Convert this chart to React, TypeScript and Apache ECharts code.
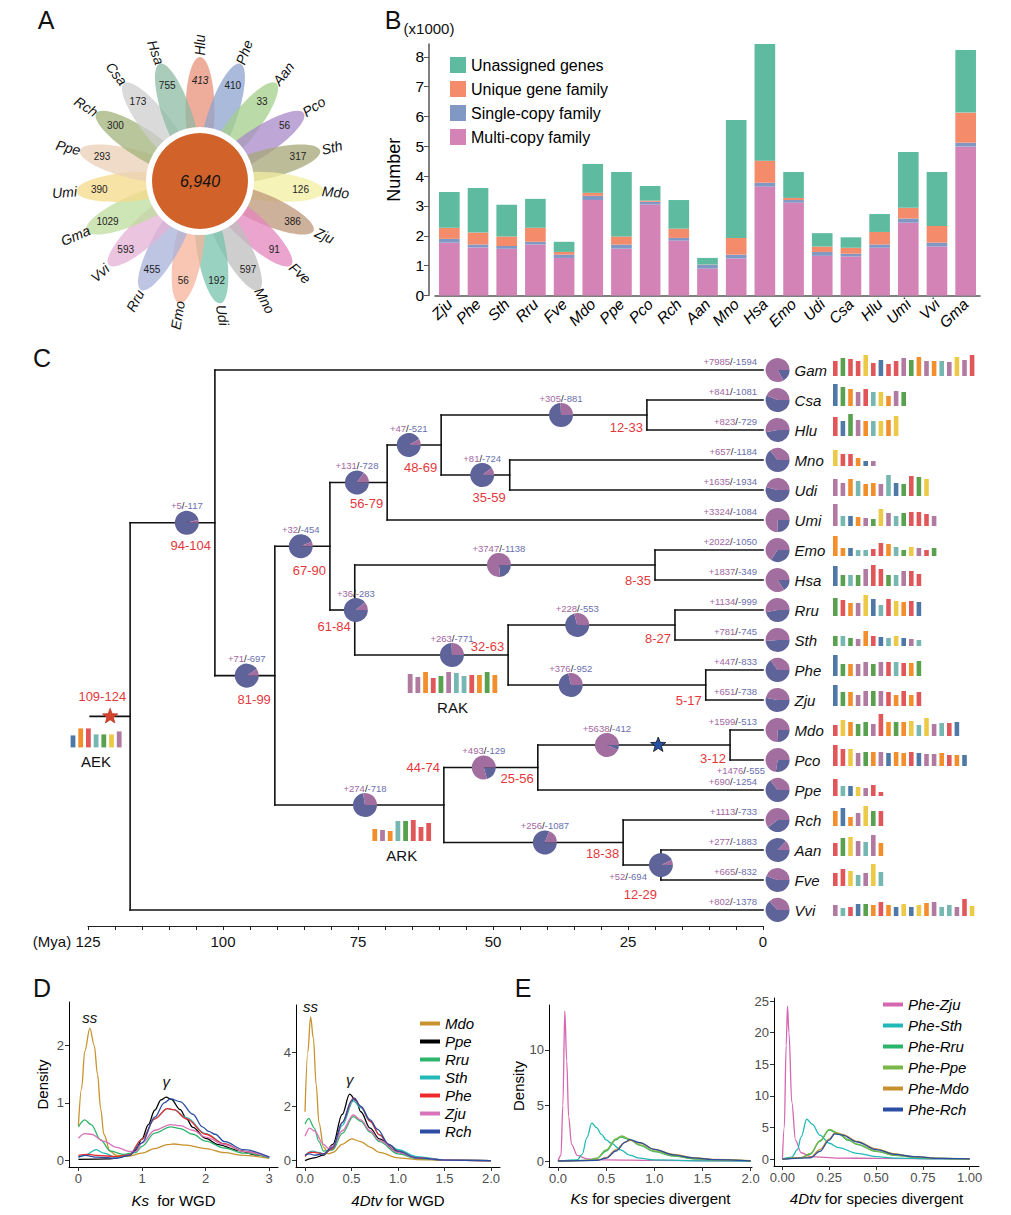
import React, { useEffect, useRef } from "react";
import * as echarts from "echarts";

const FONT = "'Liberation Sans', Arial, Helvetica, sans-serif";

// ---------------- Panel A : flower ----------------
const flowerSpecies = ["Hlu","Phe","Aan","Pco","Sth","Mdo","Zju","Fve","Mno","Udi","Emo","Rru","Vvi","Gma","Umi","Ppe","Rch","Csa","Hsa"];
const flowerUnique = [413,410,33,56,317,126,386,91,597,192,56,455,593,1029,390,293,300,173,755];
const flowerColors = ["#E8927A","#8DA3CF","#A3CF8A","#A88AC8","#A6A776","#F3EFA2","#BE977A","#E486BC","#BDBDBD","#78C3AC","#F6B399","#A7B1DA","#E4B2D6","#BDDC9C","#F6DA8A","#E9CFB5","#A2B37A","#CECECE","#8CBBA4"];
const coreFamilies = "6,940";

// ---------------- Panel B : gene families ----------------
const barSpecies = ["Zju","Phe","Sth","Rru","Fve","Mdo","Ppe","Pco","Rch","Aan","Mno","Hsa","Emo","Udi","Csa","Hlu","Umi","Vvi","Gma"];
const multiCopy = [1.77,1.61,1.57,1.71,1.26,3.20,1.57,3.05,1.84,0.90,1.24,3.65,3.11,1.33,1.31,1.60,2.44,1.64,4.99];
const singleCopy = [0.13,0.10,0.09,0.09,0.11,0.14,0.14,0.09,0.09,0.13,0.13,0.13,0.09,0.13,0.09,0.11,0.14,0.13,0.13];
const uniqueFamily = [0.37,0.40,0.32,0.47,0.09,0.10,0.27,0.04,0.31,0.01,0.56,0.74,0.07,0.18,0.20,0.42,0.36,0.56,1.01];
const unassigned = [1.20,1.49,1.06,0.97,0.34,0.97,2.16,0.49,0.96,0.22,3.95,3.91,0.87,0.45,0.35,0.60,1.87,1.81,2.10];
const barNames = ["Multi-copy family","Single-copy family","Unique gene family","Unassigned genes"];
const barColors = ["#D483B7","#8198C5","#F48B6A","#5FBBA0"];

// ---------------- Panel C : phylogeny ----------------
const leafNames = ["Gam","Csa","Hlu","Mno","Udi","Umi","Emo","Hsa","Rru","Sth","Phe","Zju","Mdo","Pco","Ppe","Rch","Aan","Fve","Vvi"];
const leafGain = [7985,841,823,657,1635,3324,2022,1837,1134,781,447,651,1599,1476,690,1113,277,665,802];
const leafLoss = [1594,1081,729,1184,1934,1084,1050,349,999,745,833,738,513,555,1254,733,1883,832,1378];
const leafParent = [1,6,6,7,7,4,9,9,11,11,12,12,15,15,14,16,17,17,0];
const nodeParent = [-1,0,1,2,3,4,5,5,3,8,8,10,10,2,13,14,13,16];
const nodeAge = [117.2,101.5,90.4,80.2,69.6,59.6,21.5,46.9,75.6,20.0,47.2,16.3,10.6,59.1,41.7,6.1,25.9,18.9];
const nodeGain = [0,5,71,32,131,47,305,81,36,3747,263,228,376,274,493,5638,256,52];
const nodeLoss = [0,117,697,454,728,521,881,724,283,1138,771,553,952,718,129,412,1087,694];
const nodePieAge = [0,106.7,95.6,85.6,75.2,65.6,37.4,52.0,75.4,48.9,57.6,34.4,35.6,73.7,51.7,28.9,40.4,18.9];
const nodeRange = ["109-124","94-104","81-99","67-90","56-79","48-69","12-33","35-59","61-84","8-35","32-63","8-27","5-17","44-74","25-56","3-12","18-38","12-29"];
const rootOriginAge = 124.6;
const starAges = [120.9, 19.4]; // AEK star on root stem, WGD star on Mdo/Pco stem
const axisTicksMya = [125,100,75,50,25,0];

const karyotypes: Record<string, number[][]> = {
  Gam: [[2,15],[4,18],[2,17],[2,15],[5,21],[2,13],[0,16],[2,12],[2,15],[6,18],[4,16],[1,19],[6,15],[1,15],[3,15],[6,14],[5,19],[6,16],[2,21]],
  Csa: [[0,22],[4,19],[1,17],[6,14],[2,17],[3,14],[5,14],[1,10],[6,15],[4,14]],
  Hlu: [[2,19],[0,15],[4,22],[6,16],[1,15],[3,15],[5,15],[1,16],[5,20]],
  Mno: [[5,16],[2,12],[2,12],[1,8],[0,5],[6,5]],
  Udi: [[6,17],[6,13],[1,17],[3,15],[1,12],[1,13],[6,12],[3,21],[0,13],[4,12],[2,20],[4,19],[5,17]],
  Umi: [[6,22],[3,10],[0,10],[1,9],[6,8],[4,7],[5,17],[6,13],[3,10],[4,13],[2,14],[2,14],[2,12],[6,10]],
  Emo: [[1,20],[1,8],[0,8],[3,6],[3,6],[2,7],[2,13],[1,12],[3,9],[4,6],[5,9],[6,8],[2,6],[4,8]],
  Hsa: [[0,20],[4,11],[3,11],[4,11],[6,17],[2,21],[2,17],[4,11],[3,11],[6,15],[2,15],[2,12]],
  Rru: [[4,18],[2,16],[1,13],[6,13],[5,21],[0,17],[3,11],[2,17],[5,15],[1,14],[2,15],[0,14]],
  Sth: [[4,10],[3,10],[4,8],[6,7],[1,15],[2,10],[0,9],[3,8],[5,10],[0,8],[6,7],[3,6]],
  Phe: [[0,21],[4,12],[1,12],[6,12],[6,14],[4,12],[6,14],[2,14],[3,14],[2,13],[1,13],[4,15]],
  Zju: [[0,21],[4,14],[1,14],[6,11],[6,15],[4,15],[6,15],[2,14],[1,11],[2,15],[1,11],[2,14]],
  Mdo: [[2,11],[5,16],[1,14],[4,12],[4,14],[6,12],[2,22],[1,14],[4,14],[1,14],[5,15],[3,11],[5,18],[6,12],[3,13],[2,13],[0,14]],
  Pco: [[2,21],[2,17],[5,17],[6,13],[4,14],[1,14],[6,14],[0,13],[1,14],[1,13],[2,14],[0,13],[6,12],[6,12],[1,13],[2,11],[1,11],[0,11]],
  Ppe: [[2,17],[3,10],[0,10],[5,9],[6,8],[2,11],[2,4]],
  Rch: [[1,15],[0,18],[1,9],[6,13],[5,20],[4,15],[2,15]],
  Aan: [[2,13],[4,18],[5,19],[6,15],[3,14],[6,21],[1,13]],
  Fve: [[2,13],[2,17],[5,15],[3,11],[6,13],[5,22],[3,14]],
  Vvi: [[6,11],[3,8],[2,9],[0,12],[4,12],[1,11],[2,14],[1,11],[0,9],[5,12],[0,9],[5,11],[1,13],[6,14],[3,9],[3,11],[6,9],[2,17],[5,10]],
};
const ancNames = ["AEK","RAK","ARK"];
const ancNode = [0,10,13];
const ancAge = [123.5,57.5,66.9];
const ancBars = [
  [[0,12],[1,19],[2,19],[3,13],[4,13],[5,13],[6,16]],
  [[6,19],[6,16],[1,21],[2,15],[4,17],[6,21],[3,20],[3,17],[2,18],[1,18],[4,21],[1,18]],
  [[1,12],[6,11],[1,10],[3,20],[4,20],[2,21],[2,14],[2,18]],
];
const KCOL = ["#4E79A7","#F28E2B","#E15759","#76B7B2","#59A14F","#EDC948","#B07AA1"];

// ---------------- Panel D : WGD ----------------
const wgdSpecies = ["Mdo","Ppe","Rru","Sth","Phe","Zju","Rch"];
const wgdColors = ["#C8922E","#000000","#2EB36A","#23BBB8","#EE2A2F","#D872B9","#2C4DA3"];
const ksWGD = [
  [[0,0.6],[0.05,1.25],[0.1,1.9],[0.18,2.3],[0.25,2.0],[0.3,1.5],[0.35,0.9],[0.4,0.45],[0.5,0.15],[0.6,0.08],[0.8,0.07],[1.0,0.12],[1.2,0.2],[1.4,0.27],[1.5,0.28],[1.7,0.26],[2.0,0.2],[2.3,0.13],[2.6,0.08],[3.0,0.03]],
  [[0,0.01],[0.5,0.02],[0.8,0.08],[0.9,0.17],[1.0,0.37],[1.1,0.62],[1.2,0.87],[1.3,1.05],[1.38,1.1],[1.46,1.06],[1.6,0.88],[1.7,0.72],[1.8,0.57],[2.0,0.38],[2.2,0.27],[2.5,0.17],[2.8,0.09],[3.0,0.05]],
  [[0,0.58],[0.1,0.7],[0.2,0.62],[0.35,0.35],[0.5,0.16],[0.7,0.1],[0.9,0.13],[1.0,0.24],[1.2,0.47],[1.45,0.58],[1.6,0.55],[1.8,0.45],[2.0,0.33],[2.3,0.21],[2.6,0.12],[3.0,0.04]],
  [[0,0.05],[0.1,0.08],[0.28,0.18],[0.4,0.12],[0.6,0.04],[0.8,0.09],[1.0,0.36],[1.2,0.72],[1.4,0.9],[1.5,0.88],[1.7,0.74],[2.0,0.46],[2.3,0.28],[2.6,0.15],[3.0,0.04]],
  [[0,0.08],[0.15,0.1],[0.3,0.08],[0.6,0.06],[0.8,0.09],[1.0,0.36],[1.2,0.72],[1.4,0.9],[1.5,0.88],[1.7,0.72],[2.0,0.45],[2.3,0.28],[2.6,0.15],[3.0,0.05]],
  [[0,0.38],[0.1,0.46],[0.2,0.45],[0.4,0.33],[0.6,0.22],[0.8,0.15],[0.9,0.15],[1.0,0.3],[1.2,0.52],[1.45,0.62],[1.6,0.6],[1.8,0.52],[2.0,0.4],[2.3,0.27],[2.6,0.15],[3.0,0.05]],
  [[0,0.05],[0.1,0.08],[0.3,0.05],[0.6,0.03],[0.8,0.08],[1.0,0.3],[1.2,0.75],[1.35,1.0],[1.45,1.07],[1.6,1.02],[1.8,0.8],[1.95,0.58],[2.05,0.5],[2.15,0.45],[2.3,0.32],[2.6,0.18],[3.0,0.05]],
];
const dtvWGD = [
  [[0,1.8],[0.03,4.0],[0.06,5.3],[0.09,4.5],[0.12,2.8],[0.15,1.4],[0.2,0.5],[0.25,0.25],[0.3,0.3],[0.4,0.6],[0.5,0.8],[0.6,0.7],[0.7,0.5],[0.8,0.3],[1.0,0.1],[1.2,0.04],[1.5,0.01],[2.0,0]],
  [[0,0],[0.1,0.1],[0.2,0.2],[0.3,0.6],[0.4,1.7],[0.48,2.45],[0.55,2.2],[0.6,1.8],[0.7,1.2],[0.8,0.8],[1.0,0.3],[1.2,0.1],[1.5,0.02],[2.0,0]],
  [[0,1.35],[0.04,1.55],[0.1,1.2],[0.15,0.7],[0.2,0.35],[0.3,0.4],[0.4,1.0],[0.52,1.62],[0.6,1.45],[0.7,1.05],[0.8,0.7],[1.0,0.25],[1.2,0.08],[1.5,0.02],[2.0,0]],
  [[0,0.2],[0.08,0.35],[0.15,0.3],[0.2,0.25],[0.3,0.45],[0.4,1.3],[0.52,2.2],[0.6,1.95],[0.7,1.45],[0.8,0.95],[0.9,0.6],[1.0,0.4],[1.2,0.15],[1.5,0.03],[2.0,0]],
  [[0,0.15],[0.05,0.3],[0.1,0.3],[0.2,0.25],[0.3,0.45],[0.4,1.4],[0.52,2.3],[0.6,2.0],[0.7,1.45],[0.8,0.95],[0.9,0.6],[1.0,0.35],[1.2,0.1],[1.5,0.02],[2.0,0]],
  [[0,0.9],[0.05,1.2],[0.1,1.1],[0.2,0.6],[0.25,0.45],[0.3,0.55],[0.4,1.1],[0.52,1.68],[0.6,1.5],[0.7,1.1],[0.8,0.75],[1.0,0.3],[1.2,0.1],[1.5,0.02],[2.0,0]],
  [[0,0.2],[0.05,0.25],[0.1,0.2],[0.2,0.25],[0.3,0.5],[0.4,1.4],[0.5,2.2],[0.53,2.3],[0.6,2.0],[0.7,1.5],[0.78,1.15],[0.9,0.6],[1.0,0.35],[1.2,0.1],[1.5,0.02],[2.0,0]],
];

// ---------------- Panel E : species divergence ----------------
const pairNames = ["Phe-Zju","Phe-Sth","Phe-Rru","Phe-Ppe","Phe-Mdo","Phe-Rch"];
const pairColors = ["#D566B0","#20B9B7","#2DB46B","#7AB648","#C7902F","#2A4EA3"];
const ksDiv = [
  [[0,0],[0.03,0.5],[0.05,5],[0.07,13.5],[0.09,9],[0.11,4],[0.14,1.5],[0.2,0.5],[0.3,0.2],[0.5,0.1],[1.0,0.05],[2.0,0]],
  [[0,0],[0.2,0.1],[0.25,0.6],[0.3,2.1],[0.35,3.4],[0.4,3.0],[0.45,2.4],[0.5,1.9],[0.55,1.6],[0.65,1.0],[0.75,0.5],[0.85,0.25],[1.0,0.1],[1.5,0.02],[2.0,0]],
  [[0,0],[0.3,0.05],[0.4,0.2],[0.5,0.9],[0.6,1.9],[0.65,2.15],[0.75,1.9],[0.85,1.4],[1.0,0.85],[1.2,0.45],[1.4,0.2],[1.6,0.1],[2.0,0.02]],
  [[0,0],[0.3,0.05],[0.4,0.25],[0.5,1.0],[0.6,2.0],[0.66,2.25],[0.75,1.95],[0.85,1.45],[1.0,0.9],[1.2,0.48],[1.4,0.22],[1.6,0.1],[2.0,0.02]],
  [[0,0],[0.4,0.05],[0.5,0.3],[0.6,1.0],[0.7,1.7],[0.75,1.85],[0.85,1.6],[1.0,1.05],[1.2,0.6],[1.4,0.3],[1.6,0.15],[2.0,0.03]],
  [[0,0],[0.4,0.05],[0.5,0.25],[0.6,0.9],[0.7,1.7],[0.74,1.92],[0.85,1.65],[1.0,1.05],[1.2,0.55],[1.4,0.28],[1.6,0.13],[2.0,0.02]],
];
const dtvDiv = [
  [[0,0],[0.01,5],[0.02,18],[0.027,24.2],[0.035,20],[0.05,9],[0.07,3],[0.1,1],[0.15,0.4],[0.3,0.15],[0.5,0.1],[1.0,0]],
  [[0,0],[0.05,0.3],[0.08,1.5],[0.1,3.5],[0.13,6.3],[0.16,5.5],[0.2,3.8],[0.25,2.5],[0.3,1.8],[0.4,0.9],[0.5,0.4],[0.6,0.15],[0.8,0.05],[1.0,0]],
  [[0,0],[0.1,0.2],[0.15,0.8],[0.2,2.8],[0.25,4.6],[0.3,4.0],[0.35,3.0],[0.4,2.3],[0.5,1.2],[0.6,0.6],[0.7,0.3],[0.85,0.1],[1.0,0.02]],
  [[0,0],[0.1,0.2],[0.15,0.9],[0.2,2.9],[0.25,4.7],[0.3,4.1],[0.35,3.1],[0.4,2.35],[0.5,1.25],[0.6,0.62],[0.7,0.3],[0.85,0.1],[1.0,0.02]],
  [[0,0],[0.15,0.3],[0.2,1.5],[0.25,3.2],[0.28,4.1],[0.32,3.9],[0.4,2.8],[0.5,1.6],[0.6,0.8],[0.7,0.4],[0.85,0.12],[1.0,0.03]],
  [[0,0],[0.15,0.2],[0.2,1.2],[0.25,3.0],[0.28,4.0],[0.32,3.8],[0.4,2.7],[0.5,1.5],[0.6,0.75],[0.7,0.38],[0.85,0.1],[1.0,0.03]],
];

// ---------------- layout constants ----------------
const PURPLE = "#A26E9F";
const BLUE = "#5E6399";
const RED = "#E4383D";
const leafPieAge = -2.7;
const rangeLabelDy = [-20,23,24,24,21,22,12,22,16,15,-9,13,15,-38,11,13,11,29];

function buildTree() {
  const nodeRow: number[] = [];
  const nodeMin: number[] = [];
  const nodeMax: number[] = [];
  const rowOf = (i: number): number => {
    const ys: number[] = [];
    nodeParent.forEach((p, j) => { if (p === i) ys.push(rowOf(j)); });
    leafParent.forEach((p, j) => { if (p === i) ys.push(j); });
    nodeRow[i] = ys.reduce((a, b) => a + b, 0) / ys.length;
    nodeMin[i] = Math.min(...ys);
    nodeMax[i] = Math.max(...ys);
    return nodeRow[i];
  };
  rowOf(0);
  return { nodeRow, nodeMin, nodeMax };
}

function starPts(cx: number, cy: number, R: number) {
  const pts: number[][] = [];
  for (let k = 0; k < 10; k++) {
    const a = -Math.PI / 2 + (k * Math.PI) / 5;
    const r = k % 2 === 0 ? R : R * 0.42;
    pts.push([cx + r * Math.cos(a), cy + r * Math.sin(a)]);
  }
  return pts;
}

function glText(g: number, l: number) {
  return `{g|+${g}}{s|/}{l|-${l}}`;
}
const glRich = {
  g: { fill: "#A3679F", fontSize: 9.5, fontFamily: FONT },
  s: { fill: "#222", fontSize: 9.5, fontFamily: FONT },
  l: { fill: "#6A6FAE", fontSize: 9.5, fontFamily: FONT },
};

function buildOption() {
  const { nodeRow, nodeMin, nodeMax } = buildTree();

  // ---- Panel A graphics ----
  const cx0 = 200, cy0 = 181;
  const nF = flowerSpecies.length;
  const petals: any[] = [];
  const petalTexts: any[] = [];
  flowerSpecies.forEach((s, i) => {
    const th = (i * 2 * Math.PI) / nF;
    const sx = Math.sin(th), cy = Math.cos(th);
    petals.push({
      type: "ellipse", x: cx0 + 70 * sx, y: cy0 - 70 * cy, rotation: Math.PI / 2 - th,
      shape: { cx: 0, cy: 0, rx: 54, ry: 14.5 },
      style: { fill: flowerColors[i], opacity: 0.75 },
    });
    petalTexts.push({
      type: "text", x: cx0 + 101 * sx, y: cy0 - 101 * cy,
      style: { text: String(flowerUnique[i]), fontSize: 10, fill: "#222", fontFamily: FONT, align: "center", verticalAlign: "middle", fontStyle: i === 0 ? "italic" : "normal" },
    });
    const right = th <= Math.PI + 1e-6;
    petalTexts.push({
      type: "text", x: cx0 + 136 * sx, y: cy0 - 136 * cy,
      rotation: right ? Math.PI / 2 - th : (3 * Math.PI) / 2 - th,
      style: { text: s, fontSize: 14, fontStyle: "italic", fill: "#111", fontFamily: FONT, align: "center", verticalAlign: "middle" },
    });
  });
  const flower = [
    ...petals,
    { type: "circle", shape: { cx: cx0, cy: cy0, r: 54 }, style: { fill: "#fff" } },
    { type: "circle", shape: { cx: cx0, cy: cy0, r: 48 }, style: { fill: "#D0622A" } },
    { type: "text", x: cx0, y: cy0, style: { text: coreFamilies, fontSize: 16, fontStyle: "italic", fill: "#111", fontFamily: FONT, align: "center", verticalAlign: "middle" } },
    ...petalTexts,
  ];

  const letters = [["A", 46, 20], ["B", 393, 20], ["C", 42, 358], ["D", 42, 988], ["E", 523, 988]].map(([t, x, y]) => ({
    type: "text", x, y, style: { text: t, fontSize: 25, fill: "#111", fontFamily: FONT, align: "center", verticalAlign: "middle" },
  }));
  const extraTexts = [
    { type: "text", x: 429, y: 28, style: { text: "(x1000)", fontSize: 15, fill: "#111", fontFamily: FONT, align: "center", verticalAlign: "middle" } },
    { type: "text", x: 52, y: 941, style: { text: "(Mya)", fontSize: 15, fill: "#111", fontFamily: FONT, align: "center", verticalAlign: "middle" } },
  ];

  // ---- Panel C data ----
  const branchData: number[][] = [];
  nodeAge.forEach((age, i) => {
    const from = i === 0 ? rootOriginAge : nodeAge[nodeParent[i]];
    branchData.push([age, nodeRow[i], from, 1, nodeMin[i], nodeMax[i]]);
  });
  leafNames.forEach((_, j) => branchData.push([0, j, nodeAge[leafParent[j]], 0, 0, 0]));

  const pieData: number[][] = [];
  const pieLabels: string[] = [];
  nodeAge.forEach((_, i) => {
    if (i === 0) return;
    pieData.push([nodePieAge[i], nodeRow[i], nodeGain[i], nodeLoss[i], i === 17 ? 3 : 0]);
    pieLabels.push(glText(nodeGain[i], nodeLoss[i]));
  });
  leafNames.forEach((n, j) => {
    pieData.push([leafPieAge, j, leafGain[j], leafLoss[j], n === "Pco" ? 2 : 1]);
    pieLabels.push(glText(leafGain[j], leafLoss[j]));
  });

  const rangeData = nodeAge.map((a, i) => [a, nodeRow[i], rangeLabelDy[i]]);

  const karyoData: number[][] = [];
  leafNames.forEach((n, j) => {
    (karyotypes[n] || []).forEach((b, k) => karyoData.push([0, j, k, b[1], b[0]]));
  });
  const ancData: number[][] = [];
  ancNames.forEach((_, a) => {
    ancBars[a].forEach((b, k) => ancData.push([ancAge[a], nodeRow[ancNode[a]], k, b[1], b[0], ancBars[a].length, a]));
  });
  const ancDy = [31, 38, 36];

  const starData = [
    [starAges[0], nodeRow[0], 0],
    [starAges[1], nodeRow[15], 1],
  ];

  const treeSeries: any[] = [
    {
      type: "custom", xAxisIndex: 1, yAxisIndex: 1, clip: false, silent: true, z: 2,
      data: branchData,
      renderItem: (_p: any, api: any) => {
        const x1 = api.value(0), y = api.value(1), x0 = api.value(2);
        const a = api.coord([x0, y]), b = api.coord([x1, y]);
        const ch: any[] = [
          { type: "line", shape: { x1: a[0], y1: a[1], x2: b[0], y2: b[1] }, style: { stroke: "#111", lineWidth: 1.6, lineCap: "square" } },
        ];
        if (api.value(3) > 0) {
          const c = api.coord([x1, api.value(4)]), d = api.coord([x1, api.value(5)]);
          ch.push({ type: "line", shape: { x1: c[0], y1: c[1], x2: d[0], y2: d[1] }, style: { stroke: "#111", lineWidth: 1.6, lineCap: "square" } });
        }
        return { type: "group", children: ch };
      },
    },
    {
      type: "custom", xAxisIndex: 1, yAxisIndex: 1, clip: false, silent: true, z: 3,
      data: ancData,
      renderItem: (_p: any, api: any) => {
        const p = api.coord([api.value(0), api.value(1)]);
        const k = api.value(2), h = api.value(3), c = api.value(4), n = api.value(5), a = api.value(6);
        const step = 7.7, w = 4.8;
        const total = (n - 1) * step + w;
        const bottom = p[1] + ancDy[a];
        const x = p[0] - total / 2 + k * step;
        const ch: any[] = [{ type: "rect", shape: { x, y: bottom - h, width: w, height: h }, style: { fill: KCOL[c] } }];
        if (k === 0) {
          ch.push({ type: "text", x: p[0], y: bottom + 14, style: { text: ancNames[a], fontSize: 15, fill: "#111", fontFamily: FONT, align: "center", verticalAlign: "middle" } });
        }
        return { type: "group", children: ch };
      },
    },
    {
      type: "custom", xAxisIndex: 1, yAxisIndex: 1, clip: false, silent: true, z: 3,
      data: karyoData,
      renderItem: (_p: any, api: any) => {
        const p = api.coord([api.value(0), api.value(1)]);
        const k = api.value(2), h = api.value(3), c = api.value(4);
        const x = p[0] + 70 + k * 7.6;
        const bottom = p[1] + 6;
        return { type: "rect", shape: { x, y: bottom - h, width: 4.6, height: h }, style: { fill: KCOL[c] } };
      },
    },
    {
      type: "custom", xAxisIndex: 1, yAxisIndex: 1, clip: false, silent: true, z: 4,
      data: pieData,
      renderItem: (params: any, api: any) => {
        const p = api.coord([api.value(0), api.value(1)]);
        const z0 = api.coord([0, api.value(1)]);
        const g = api.value(2), l = api.value(3), mode = api.value(4);
        const f = g / (g + l);
        const R = 12;
        const ch: any[] = [
          { type: "sector", shape: { cx: p[0], cy: p[1], r: R, r0: 0, startAngle: 0, endAngle: (1 - f) * Math.PI * 2, clockwise: true }, style: { fill: BLUE } },
          { type: "sector", shape: { cx: p[0], cy: p[1], r: R, r0: 0, startAngle: -f * Math.PI * 2, endAngle: 0, clockwise: true }, style: { fill: PURPLE } },
        ];
        let tx = p[0], ty = p[1] - 17, align = "center";
        if (mode === 1) { tx = z0[0] - 6; ty = p[1] - 9; align = "right"; }
        else if (mode === 2) { tx = z0[0] + 2; ty = p[1] + 10; align = "right"; }
        else if (mode === 3) { tx = p[0] - 14; ty = p[1] + 11; align = "right"; }
        ch.push({ type: "text", x: tx, y: ty, style: { text: pieLabels[params.dataIndex], rich: glRich, fontSize: 9.5, fontFamily: FONT, align, verticalAlign: "middle" } });
        if (mode === 1 || mode === 2) {
          ch.push({ type: "text", x: p[0] + 17, y: p[1], style: { text: leafNames[api.value(1)], fontSize: 15, fontStyle: "italic", fill: "#111", fontFamily: FONT, align: "left", verticalAlign: "middle" } });
        }
        return { type: "group", children: ch };
      },
    },
    {
      type: "custom", xAxisIndex: 1, yAxisIndex: 1, clip: false, silent: true, z: 4,
      data: rangeData,
      renderItem: (params: any, api: any) => {
        const p = api.coord([api.value(0), api.value(1)]);
        return { type: "text", x: p[0] - 4, y: p[1] + api.value(2), style: { text: nodeRange[params.dataIndex], fontSize: 13, fill: RED, fontFamily: FONT, align: "right", verticalAlign: "middle" } };
      },
    },
    {
      type: "custom", xAxisIndex: 1, yAxisIndex: 1, clip: false, silent: true, z: 5,
      data: starData,
      renderItem: (_p: any, api: any) => {
        const p = api.coord([api.value(0), api.value(1)]);
        const blue = api.value(2) === 1;
        return { type: "polygon", shape: { points: starPts(p[0], p[1], 8) }, style: { fill: blue ? "#2450A6" : "#D8432E", stroke: blue ? "#111" : "#B8321F", lineWidth: 0.8 } };
      },
    },
  ];

  // ---- Panel B series ----
  const barSeries = [multiCopy, singleCopy, uniqueFamily, unassigned].map((d, i) => ({
    name: barNames[i], type: "bar", stack: "genes", xAxisIndex: 0, yAxisIndex: 0, barWidth: "72%",
    data: d, itemStyle: { color: barColors[i] },
  }));

  // ---- Panels D & E ----
  const lineS = (name: string, color: string, data: number[][], ax: number, mp?: any) => ({
    name, type: "line", xAxisIndex: ax, yAxisIndex: ax, data, showSymbol: false, smooth: 0.35, smoothMonotone: "x",
    lineStyle: { color, width: 1.3 }, itemStyle: { color }, z: 3, ...(mp ? { markPoint: mp } : {}),
  });
  const ann = (coord: number[], text: string, dist: number) => ({
    symbol: "circle", symbolSize: 1, itemStyle: { color: "rgba(0,0,0,0)" }, silent: true,
    label: { show: true, position: "top", distance: dist, formatter: text, fontSize: 15, fontStyle: "italic", color: "#111", fontFamily: FONT },
    data: [{ coord }],
  });
  const dSeries: any[] = [];
  wgdSpecies.forEach((n, i) => {
    dSeries.push(lineS(n, wgdColors[i], ksWGD[i], 2, n === "Mdo" ? ann([0.18, 2.3], "ss", 3) : n === "Ppe" ? ann([1.38, 1.1], "γ", 8) : undefined));
  });
  wgdSpecies.forEach((n, i) => {
    dSeries.push(lineS(n, wgdColors[i], dtvWGD[i], 3, n === "Mdo" ? ann([0.06, 5.3], "ss", 2) : n === "Ppe" ? ann([0.48, 2.45], "γ", 7) : undefined));
  });
  pairNames.forEach((n, i) => dSeries.push(lineS(n, pairColors[i], ksDiv[i], 4)));
  pairNames.forEach((n, i) => dSeries.push(lineS(n, pairColors[i], dtvDiv[i], 5)));

  const nameStyle = { fontSize: 15, color: "#000", fontFamily: FONT, rich: { i: { fontStyle: "italic", fontSize: 15, color: "#000", fontFamily: FONT } } };
  const ggX = (g: number, min: number, max: number, ticks: number[], fmt: (v: number) => string, name: string, gap: number) => ({
    gridIndex: g, type: "value", min, max, splitLine: { show: false },
    axisLine: { onZero: false, lineStyle: { color: "#000", width: 1 } },
    axisTick: { customValues: ticks, length: 4, lineStyle: { color: "#333" } },
    axisLabel: { customValues: ticks, formatter: fmt, fontSize: 13, color: "#4D4D4D", margin: 5, fontFamily: FONT },
    name, nameLocation: "middle", nameGap: gap, nameTextStyle: nameStyle,
  });
  const ggY = (g: number, min: number, max: number, ticks: number[], name: string, gap: number) => ({
    gridIndex: g, type: "value", min, max, splitLine: { show: false },
    axisLine: { onZero: false, lineStyle: { color: "#000", width: 1 } },
    axisTick: { customValues: ticks, length: 4, lineStyle: { color: "#333" } },
    axisLabel: { customValues: ticks, fontSize: 13, color: "#4D4D4D", margin: 5, fontFamily: FONT },
    name, nameLocation: "middle", nameGap: gap, nameTextStyle: { fontSize: 15, color: "#000", fontFamily: FONT },
  });
  const f0 = (v: number) => String(v);
  const f1 = (v: number) => v.toFixed(1);
  const f2 = (v: number) => v.toFixed(2);

  return {
    animation: false,
    backgroundColor: "#fff",
    textStyle: { fontFamily: FONT },
    grid: [
      { left: 435, right: 31, top: 44, bottom: 919.5 },
      { left: 88, width: 675, top: 370, height: 540 },
      { left: 69, top: 1002, width: 209, height: 165 },
      { left: 296, top: 1005, width: 204, height: 162 },
      { left: 549, top: 1005, width: 203, height: 162 },
      { left: 774, top: 998, width: 205, height: 168 },
    ],
    xAxis: [
      {
        gridIndex: 0, type: "category", data: barSpecies,
        axisLine: { lineStyle: { color: "#555", width: 1.5 } },
        axisTick: { alignWithLabel: true, length: 5, lineStyle: { color: "#555" } },
        axisLabel: { interval: 0, rotate: 45, fontStyle: "italic", fontSize: 15.5, color: "#000", margin: 6, fontFamily: FONT },
      },
      {
        gridIndex: 1, type: "value", inverse: true, min: 0, max: 125, interval: 5, offset: 16, splitLine: { show: false },
        axisLine: { onZero: false, lineStyle: { color: "#222", width: 1.2 } },
        axisTick: { length: 4, lineStyle: { color: "#222" } },
        axisLabel: { formatter: (v: number) => (axisTicksMya.includes(v) ? String(v) : ""), fontSize: 15, color: "#111", margin: 8, fontFamily: FONT },
      },
      ggX(2, -0.148, 3.139, [0, 1, 2, 3], f0, "{i|Ks}  for WGD", 26),
      ggX(3, -0.097, 2.097, [0, 0.5, 1, 1.5, 2], f1, "{i|4Dtv} for WGD", 26),
      ggX(4, -0.094, 2.014, [0, 0.5, 1, 1.5, 2], f1, "{i|Ks} for species divergent", 24),
      ggX(5, -0.045, 1.05, [0, 0.25, 0.5, 0.75, 1], f2, "{i|4Dtv} for species divergent", 25),
    ],
    yAxis: [
      {
        gridIndex: 0, type: "value", min: 0, max: 8.43, offset: 6, splitLine: { show: false },
        axisLine: { show: true, lineStyle: { color: "#555", width: 1.5 } },
        axisTick: { show: true, customValues: [0, 1, 2, 3, 4, 5, 6, 7, 8], length: 5, lineStyle: { color: "#555" } },
        axisLabel: { customValues: [0, 1, 2, 3, 4, 5, 6, 7, 8], fontSize: 15.5, color: "#000", margin: 5, fontFamily: FONT },
        name: "Number", nameLocation: "middle", nameGap: 26, nameTextStyle: { fontSize: 18, color: "#000", fontFamily: FONT },
      },
      { gridIndex: 1, type: "value", inverse: true, min: 0, max: 18, show: false },
      ggY(2, -0.122, 2.762, [0, 1, 2], "Density", 19),
      ggY(3, -0.236, 5.735, [0, 2, 4], "", 20),
      ggY(4, -0.54, 14.04, [0, 5, 10], "Density", 23),
      ggY(5, -1.1, 25.5, [0, 5, 10, 15, 20, 25], "", 20),
    ],
    legend: [
      {
        data: ["Unassigned genes", "Unique gene family", "Single-copy family", "Multi-copy family"],
        left: 445, top: 52, orient: "vertical", itemWidth: 16, itemHeight: 16, itemGap: 8, icon: "rect",
        textStyle: { fontSize: 16, color: "#000", fontFamily: FONT }, selectedMode: false,
      },
      {
        data: wgdSpecies, left: 415, top: 1011, orient: "vertical", itemWidth: 20, itemHeight: 4, itemGap: 3, icon: "rect",
        textStyle: { fontSize: 15, fontStyle: "italic", color: "#000", fontFamily: FONT }, selectedMode: false,
      },
      {
        data: pairNames, left: 878, top: 992, orient: "vertical", itemWidth: 20, itemHeight: 4, itemGap: 6, icon: "rect",
        textStyle: { fontSize: 15, fontStyle: "italic", color: "#000", fontFamily: FONT }, selectedMode: false,
      },
    ],
    graphic: [...flower, ...letters, ...extraTexts],
    series: [...barSeries, ...treeSeries, ...dSeries],
  };
}

export default function App() {
  const ref = useRef<HTMLDivElement>(null);
  useEffect(() => {
    const chart = echarts.init(ref.current!, null, { renderer: "svg" });
    chart.setOption(buildOption() as any);
    return () => chart.dispose();
  }, []);
  return <div ref={ref} style={{ position: "absolute", left: 0, top: 0, width: 1011, height: 1215, background: "#fff" }} />;
}
